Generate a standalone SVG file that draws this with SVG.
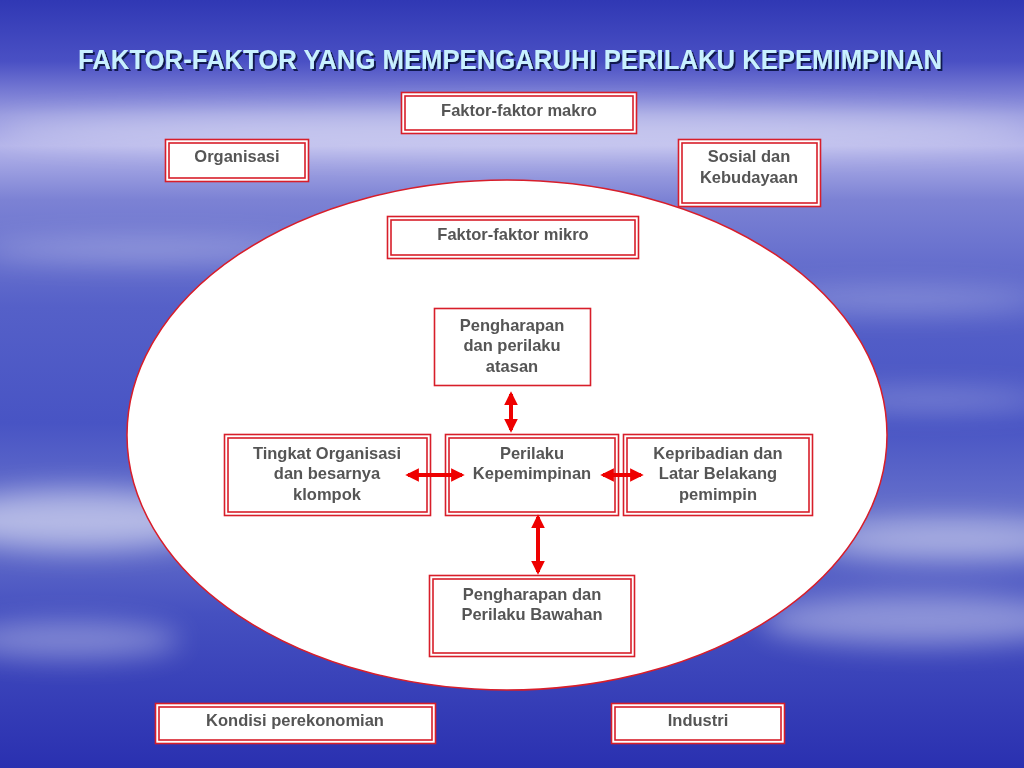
<svg xmlns="http://www.w3.org/2000/svg" width="1024" height="768" viewBox="0 0 1024 768">
<defs>
<linearGradient id="bg" x1="0" y1="0" x2="0" y2="1">
<stop offset="0" stop-color="#3038b4"/>
<stop offset="0.08" stop-color="#4a50c4"/>
<stop offset="0.15" stop-color="#9a9ce0"/>
<stop offset="0.19" stop-color="#b4b4ea"/>
<stop offset="0.26" stop-color="#7c82d4"/>
<stop offset="0.4" stop-color="#5560c8"/>
<stop offset="0.55" stop-color="#4854c4"/>
<stop offset="0.68" stop-color="#6a74cc"/>
<stop offset="0.8" stop-color="#4550c0"/>
<stop offset="1" stop-color="#2a30b0"/>
</linearGradient>
<filter id="blur" x="-50%" y="-50%" width="200%" height="200%"><feGaussianBlur stdDeviation="14"/></filter>
<filter id="tsh" x="-5%" y="-30%" width="110%" height="160%"><feDropShadow dx="2" dy="2" stdDeviation="0.6" flood-color="#10124a" flood-opacity="0.95"/></filter>
<marker id="ah" viewBox="0 0 10 10" refX="8" refY="5" markerWidth="3.4" markerHeight="3.4" orient="auto-start-reverse" markerUnits="strokeWidth">
<path d="M0,0 L10,5 L0,10 z" fill="#ee0000"/>
</marker>
<style>
.o{fill:#fff;stroke:#d81e2a;stroke-width:1.6}
.i{fill:none;stroke:#d81e2a;stroke-width:1.6}
.t{font-family:"Liberation Sans",Arial,sans-serif;font-weight:bold;font-size:16.5px;fill:#555555;text-anchor:middle}
.c{stroke:#ee0000;stroke-width:4;fill:none}
</style>
</defs>
<rect width="1024" height="768" fill="url(#bg)"/>
<g filter="url(#blur)" fill="#ffffff">
<ellipse cx="520" cy="130" rx="520" ry="22" opacity="0.35"/>
<ellipse cx="150" cy="250" rx="170" ry="10" opacity="0.35"/>
<ellipse cx="900" cy="300" rx="150" ry="12" opacity="0.3"/>
<ellipse cx="80" cy="520" rx="140" ry="30" opacity="0.5"/>
<ellipse cx="950" cy="540" rx="130" ry="20" opacity="0.45"/>
<ellipse cx="920" cy="620" rx="160" ry="25" opacity="0.4"/>
<ellipse cx="70" cy="640" rx="110" ry="18" opacity="0.35"/>
<ellipse cx="930" cy="400" rx="120" ry="10" opacity="0.3"/>
</g>
<text x="510" y="69" font-family="'Liberation Sans',Arial,sans-serif" font-weight="bold" font-size="28" fill="#c8f0ff" text-anchor="middle" textLength="864" lengthAdjust="spacingAndGlyphs" filter="url(#tsh)">FAKTOR-FAKTOR YANG MEMPENGARUHI PERILAKU KEPEMIMPINAN</text>
<ellipse id="mikro-area" cx="507" cy="435" rx="380" ry="255" fill="#ffffff" stroke="#d81e2a" stroke-width="1.5"/>
<g id="makro"><rect class="o" x="401.5" y="92.5" width="235" height="41"/><rect class="i" x="405" y="96" width="228" height="34"/><text class="t" x="519" y="116">Faktor-faktor makro</text></g>
<g id="organisasi"><rect class="o" x="165.5" y="139.5" width="143" height="42"/><rect class="i" x="169" y="143" width="136" height="35"/><text class="t" x="237" y="162">Organisasi</text></g>
<g id="sosial"><rect class="o" x="678.5" y="139.5" width="142" height="67"/><rect class="i" x="682" y="143" width="135" height="60"/><text class="t" x="749" y="162">Sosial dan</text><text class="t" x="749" y="183">Kebudayaan</text></g>
<g id="mikro"><rect class="o" x="387.5" y="216.5" width="251" height="42"/><rect class="i" x="391" y="220" width="244" height="35"/><text class="t" x="513" y="240">Faktor-faktor mikro</text></g>
<g id="atasan"><rect class="o" x="434.5" y="308.5" width="156" height="77"/><text class="t" x="512" y="331">Pengharapan</text><text class="t" x="512" y="351">dan perilaku</text><text class="t" x="512" y="372">atasan</text></g>
<g id="tingkat"><rect class="o" x="224.5" y="434.5" width="206" height="81"/><rect class="i" x="228" y="438" width="199" height="74"/><text class="t" x="327" y="459">Tingkat Organisasi</text><text class="t" x="327" y="479">dan besarnya</text><text class="t" x="327" y="500">klompok</text></g>
<g id="perilaku"><rect class="o" x="445.5" y="434.5" width="173" height="81"/><rect class="i" x="449" y="438" width="166" height="74"/><text class="t" x="532" y="459">Perilaku</text><text class="t" x="532" y="479">Kepemimpinan</text></g>
<g id="kepribadian"><rect class="o" x="623.5" y="434.5" width="189" height="81"/><rect class="i" x="627" y="438" width="182" height="74"/><text class="t" x="718" y="459">Kepribadian dan</text><text class="t" x="718" y="479">Latar Belakang</text><text class="t" x="718" y="500">pemimpin</text></g>
<g id="bawahan"><rect class="o" x="429.5" y="575.5" width="205" height="81"/><rect class="i" x="433" y="579" width="198" height="74"/><text class="t" x="532" y="600">Pengharapan dan</text><text class="t" x="532" y="620">Perilaku Bawahan</text></g>
<g id="kondisi"><rect class="o" x="155.5" y="703.5" width="280" height="40"/><rect class="i" x="159" y="707" width="273" height="33"/><text class="t" x="295" y="726">Kondisi perekonomian</text></g>
<g id="industri"><rect class="o" x="611.5" y="703.5" width="173" height="40"/><rect class="i" x="615" y="707" width="166" height="33"/><text class="t" x="698" y="726">Industri</text></g>
<g id="connectors">
<line class="c" x1="511" y1="394" x2="511" y2="430" marker-start="url(#ah)" marker-end="url(#ah)"/>
<line class="c" x1="408" y1="475" x2="462" y2="475" marker-start="url(#ah)" marker-end="url(#ah)"/>
<line class="c" x1="603" y1="475" x2="641" y2="475" marker-start="url(#ah)" marker-end="url(#ah)"/>
<line class="c" x1="538" y1="517" x2="538" y2="572" marker-start="url(#ah)" marker-end="url(#ah)"/>
</g>
</svg>
